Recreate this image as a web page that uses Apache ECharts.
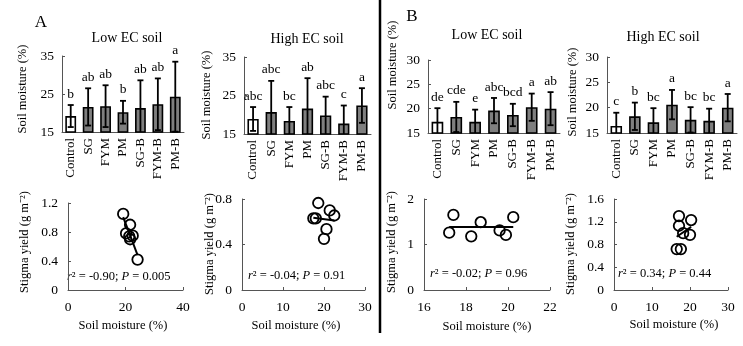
<!DOCTYPE html>
<html>
<head>
<meta charset="utf-8">
<script src="https://cdn.jsdelivr.net/npm/echarts@6/dist/echarts.min.js"></script>
<style>
  html, body { margin: 0; padding: 0; background: #fff; }
  #main { width: 743px; height: 346px; }
</style>
</head>
<body>
<div id="main"></div>
<script>
const categories = ["Control", "SG", "FYM", "PM", "SG-B", "FYM-B", "PM-B"];

// soil moisture (%) bars: mean and error
const aLowMean = [19.2, 21.6, 21.8, 20.2, 21.3, 22.3, 24.3];
const aLowErr = [2.9, 4.9, 5.5, 3.0, 7.3, 6.8, 9.2];
const aLowLetters = ["b", "ab", "ab", "b", "ab", "ab", "a"];

const aHighMean = [18.9, 20.7, 18.4, 21.6, 19.8, 17.7, 22.4];
const aHighErr = [3.1, 8.1, 3.6, 7.9, 4.9, 4.7, 4.5];
const aHighLetters = ["abc", "abc", "bc", "ab", "abc", "c", "a"];

const bLowMean = [17.3, 18.3, 17.3, 19.6, 18.7, 20.3, 20.0];
const bLowErr = [2.8, 3.1, 2.5, 2.6, 2.3, 2.8, 3.4];
const bLowLetters = ["de", "cde", "e", "abc", "bcd", "a", "ab"];

const bHighMean = [16.4, 18.3, 17.1, 20.6, 17.6, 17.4, 20.0];
const bHighErr = [2.6, 2.7, 2.8, 2.9, 2.5, 2.4, 2.7];
const bHighLetters = ["c", "b", "bc", "a", "bc", "bc", "a"];

// stigma yield vs soil moisture
const aLowX = [19.2, 21.6, 20.2, 22.5, 21.6, 24.2, 21.3];
const aLowY = [1.05, 0.90, 0.78, 0.75, 0.70, 0.42, 0.74];
const aHighX = [18.6, 18.0, 17.4, 21.4, 22.5, 20.6, 20.0];
const aHighY = [0.765, 0.63, 0.63, 0.70, 0.655, 0.535, 0.45];
const bLowX = [17.2, 17.4, 18.25, 18.7, 19.6, 19.9, 20.25];
const bLowY = [1.26, 1.65, 1.18, 1.49, 1.31, 1.21, 1.60];
const bHighX = [17.1, 17.1, 20.3, 20.0, 16.5, 17.6, 18.2];
const bHighY = [1.30, 1.13, 1.23, 0.97, 0.72, 0.72, 1.0];

const statTexts = ["{i|r}² = -0.90; {i|P} = 0.005", "{i|r}² = -0.04; {i|P} = 0.91",
                   "{i|r}² = -0.02; {i|P} = 0.96", "{i|r}² = 0.34; {i|P} = 0.44"];

const FONT = "Liberation Serif";
const axisLine = { lineStyle: { color: "#555", width: 1 } };

let grids = [], xAxes = [], yAxes = [], series = [];

function barPanel(grid, mean, err, letters, yMin, yMax, ticks) {
  let i = grids.length;
  grids.push(grid);
  xAxes.push({
    type: "category", gridIndex: i, data: categories,
    axisLine: axisLine, axisTick: { show: false },
    axisLabel: { rotate: 90, margin: 6, color: "#000", fontFamily: FONT, fontSize: 13 }
  });
  yAxes.push({
    type: "value", gridIndex: i, min: yMin, max: yMax,
    axisLine: Object.assign({ show: true }, axisLine),
    axisTick: { show: true, inside: true, length: 3, customValues: ticks, lineStyle: { color: "#555" } },
    axisLabel: { customValues: ticks, margin: 8, color: "#000", fontFamily: FONT, fontSize: 13.5 },
    splitLine: { show: false }
  });
  series.push({
    type: "bar", xAxisIndex: i, yAxisIndex: i, barWidth: "62%",
    data: mean.map((v, k) => ({
      value: v,
      itemStyle: { color: k === 0 ? "#fff" : "#7f7f7f", borderColor: "#000", borderWidth: 1.6 }
    }))
  });
  series.push({
    type: "custom", xAxisIndex: i, yAxisIndex: i, z: 5,
    data: mean.map((v, k) => [k, v, err[k]]),
    renderItem(params, api) {
      let k = api.value(0), m = api.value(1), e = api.value(2);
      let top = api.coord([k, m + e]);
      let lo = m - e;
      let bot = api.coord([k, Math.max(lo, yMin)]);
      let st = { stroke: "#000", lineWidth: 1.8 };
      let kids = [
        { type: "line", shape: { x1: top[0], y1: top[1], x2: bot[0], y2: bot[1] }, style: st },
        { type: "line", shape: { x1: top[0] - 3, y1: top[1], x2: top[0] + 3, y2: top[1] }, style: st },
        { type: "text", style: { text: letters[params.dataIndex], x: top[0], y: top[1] - 4,
            align: "center", verticalAlign: "bottom", fill: "#000", fontFamily: FONT, fontSize: 13.5 } }
      ];
      if (lo > yMin) {
        kids.push({ type: "line", shape: { x1: bot[0] - 3, y1: bot[1], x2: bot[0] + 3, y2: bot[1] }, style: st });
      }
      return { type: "group", children: kids };
    }
  });
}

function fitLine(xs, ys) {
  let n = xs.length;
  let mx = xs.reduce((a, b) => a + b, 0) / n;
  let my = ys.reduce((a, b) => a + b, 0) / n;
  let sxy = 0, sxx = 0;
  for (let k = 0; k < n; k++) {
    sxy += (xs[k] - mx) * (ys[k] - my);
    sxx += (xs[k] - mx) * (xs[k] - mx);
  }
  let b = sxy / sxx, a = my - b * mx;
  let x0 = Math.min(...xs), x1 = Math.max(...xs);
  return [[x0, a + b * x0], [x1, a + b * x1]];
}

function scatterPanel(grid, xs, ys, xMin, xMax, xInt, yMax, yInt) {
  let i = grids.length;
  grids.push(grid);
  xAxes.push({
    type: "value", gridIndex: i, min: xMin, max: xMax, interval: xInt,
    axisLine: axisLine,
    axisTick: { inside: true, length: 3, lineStyle: { color: "#555" } },
    axisLabel: { margin: 10, color: "#000", fontFamily: FONT, fontSize: 13.5 },
    splitLine: { show: false }
  });
  yAxes.push({
    type: "value", gridIndex: i, min: 0, max: yMax, interval: yInt,
    axisLine: Object.assign({ show: true }, axisLine),
    axisTick: { show: true, inside: true, length: 3, lineStyle: { color: "#555" } },
    axisLabel: { margin: 10, color: "#000", fontFamily: FONT, fontSize: 13.5 },
    splitLine: { show: false }
  });
  series.push({
    type: "line", xAxisIndex: i, yAxisIndex: i, data: fitLine(xs, ys),
    symbol: "none", lineStyle: { color: "#000", width: 2 }, z: 2
  });
  series.push({
    type: "scatter", xAxisIndex: i, yAxisIndex: i, symbol: "circle", symbolSize: 10.5,
    data: xs.map((x, k) => [x, ys[k]]),
    itemStyle: { color: "rgba(255,255,255,0)", borderColor: "#000", borderWidth: 1.8, opacity: 1 },
    z: 3
  });
}

barPanel({ left: 62, top: 56, width: 122, height: 76 }, aLowMean, aLowErr, aLowLetters, 15, 35, [15, 25, 35]);
barPanel({ left: 244, top: 57, width: 127, height: 77 }, aHighMean, aHighErr, aHighLetters, 15, 35, [15, 25, 35]);
barPanel({ left: 428, top: 60, width: 132, height: 73 }, bLowMean, bLowErr, bLowLetters, 15, 30, [15, 20, 25, 30]);
barPanel({ left: 607, top: 57, width: 130, height: 76 }, bHighMean, bHighErr, bHighLetters, 15, 30, [15, 20, 25, 30]);

scatterPanel({ left: 68, top: 203, width: 115, height: 87 }, aLowX, aLowY, 0, 40, 20, 1.2, 0.4);
scatterPanel({ left: 242, top: 199, width: 123, height: 91 }, aHighX, aHighY, 0, 30, 10, 0.8, 0.4);
scatterPanel({ left: 424, top: 199, width: 126, height: 91 }, bLowX, bLowY, 16, 22, 2, 2, 1);
scatterPanel({ left: 614, top: 199, width: 114, height: 91 }, bHighX, bHighY, 0, 30, 10, 1.6, 0.4);

function txt(text, x, y, size, rot) {
  return {
    type: "text", x: x, y: y, rotation: rot || 0,
    style: { text: text, align: "center", verticalAlign: "middle", fill: "#000", fontFamily: FONT, fontSize: size }
  };
}

const graphics = [
  txt("A", 41, 23, 17), txt("B", 412, 17, 17),
  txt("Low EC soil", 127, 38, 14), txt("High EC soil", 307, 39, 14),
  txt("Low EC soil", 487, 35, 14), txt("High EC soil", 663, 37, 14),
  txt("Soil moisture (%)", 23, 89, 12.5, Math.PI / 2),
  txt("Soil moisture (%)", 207, 95, 12.5, Math.PI / 2),
  txt("Soil moisture (%)", 393, 65, 12.5, Math.PI / 2),
  txt("Soil moisture (%)", 573, 92, 12.5, Math.PI / 2),
  txt("Stigma yield (g m⁻²)", 25, 242, 12.5, Math.PI / 2),
  txt("Stigma yield (g m⁻²)", 210, 244, 12.5, Math.PI / 2),
  txt("Stigma yield (g m⁻²)", 392, 242, 12.5, Math.PI / 2),
  txt("Stigma yield (g m⁻²)", 571, 244, 12.5, Math.PI / 2),
  txt("Soil moisture (%)", 123, 326, 12.5), txt("Soil moisture (%)", 296, 326, 12.5),
  txt("Soil moisture (%)", 487, 327, 12.5), txt("Soil moisture (%)", 674, 325, 12.5),
  { type: "line", shape: { x1: 380, y1: 0, x2: 380, y2: 333 }, style: { stroke: "#000", lineWidth: 2.5 } }
];
[[67, 277], [248, 276], [430, 274], [618, 274]].forEach((p, k) => {
  graphics.push({
    type: "text", x: p[0], y: p[1],
    style: { text: statTexts[k], align: "left", verticalAlign: "middle", fill: "#000",
      fontFamily: FONT, fontSize: 12.5, rich: { i: { fontStyle: "italic", fontFamily: FONT, fontSize: 12.5 } } }
  });
});

let myChart = echarts.init(document.getElementById("main"));
myChart.setOption({
  animation: false,
  backgroundColor: "#fff",
  grid: grids,
  xAxis: xAxes,
  yAxis: yAxes,
  series: series,
  graphic: graphics
});
</script>
</body>
</html>
